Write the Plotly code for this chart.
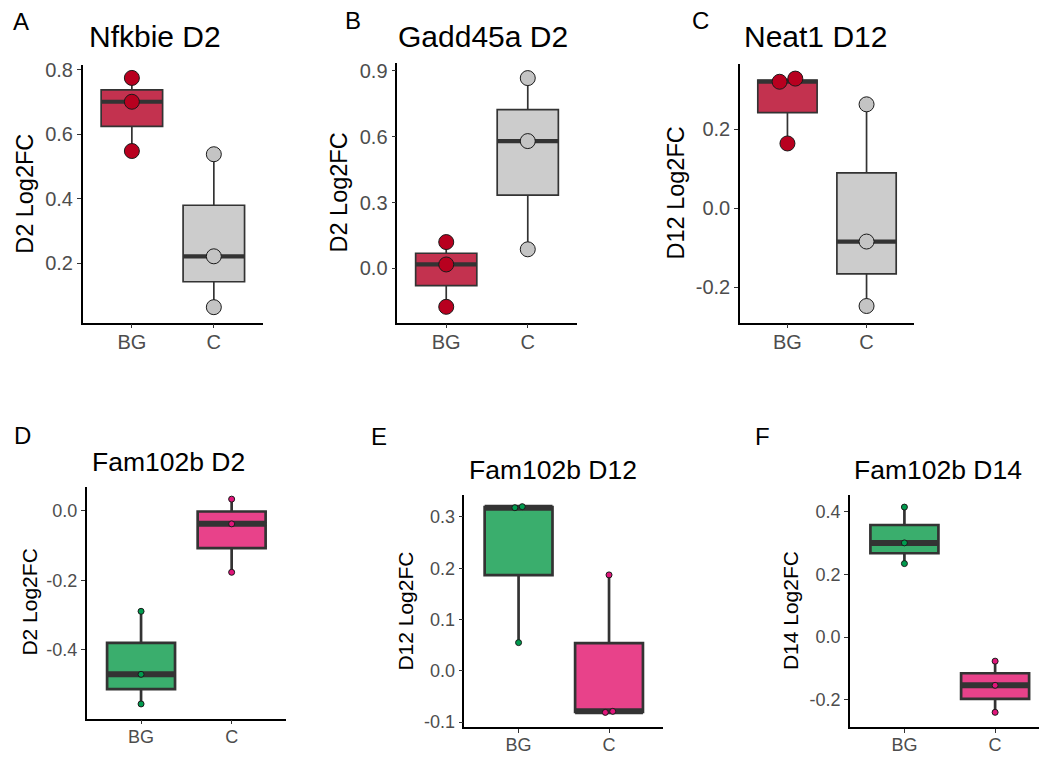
import numpy as np
import plotly.graph_objects as go

# ---------------- data ----------------
categories = ["BG", "C"]

a_bg = [0.548, 0.701, 0.775]
a_c = [0.063, 0.221, 0.538]
b_bg = [-0.175, 0.018, 0.120]
b_c = [0.087, 0.580, 0.867]
c_bg = [0.164, 0.320, 0.328]
c_c = [-0.247, -0.084, 0.263]
d_bg = [-0.555, -0.470, -0.289]
d_c = [-0.177, -0.038, 0.033]
e_bg = [0.055, 0.318, 0.320]
e_c = [-0.081, -0.079, 0.187]
f_bg = [0.234, 0.300, 0.414]
f_c = [-0.240, -0.154, -0.077]

titles = ["Nfkbie D2", "Gadd45a D2", "Neat1 D12", "Fam102b D2", "Fam102b D12", "Fam102b D14"]
ylabels = ["D2 Log2FC", "D2 Log2FC", "D12 Log2FC", "D2 Log2FC", "D12 Log2FC", "D14 Log2FC"]
letters = ["A", "B", "C", "D", "E", "F"]

a_ticks = [0.2, 0.4, 0.6, 0.8]
b_ticks = [0.0, 0.3, 0.6, 0.9]
c_ticks = [-0.2, 0.0, 0.2]
d_ticks = [-0.4, -0.2, 0.0]
e_ticks = [-0.1, 0.0, 0.1, 0.2, 0.3]
f_ticks = [-0.2, 0.0, 0.2, 0.4]

values = [(a_bg, a_c), (b_bg, b_c), (c_bg, c_c), (d_bg, d_c), (e_bg, e_c), (f_bg, f_c)]
ticks = [a_ticks, b_ticks, c_ticks, d_ticks, e_ticks, f_ticks]

# ---------------- layout (pixels) ----------------
W, H = 1039, 761
FONT = "Liberation Sans, Arial, Helvetica, sans-serif"

# x0, x1, y0(top), y1(bottom), yrange, xrange, row
panels = [
    dict(x0=82.7, x1=263.0, y0=60.0, y1=321.7, yr=[0.015, 0.815], xr=[0.4, 2.6], row=0,
         ytx=25, tx=155, ty=36.7, lx=21, ly=21),
    dict(x0=397.3, x1=576.7, y0=58.3, y1=321.7, yr=[-0.247, 0.934], xr=[0.4, 2.6], row=0,
         ytx=339.5, tx=483.3, ty=36.7, lx=353, ly=20),
    dict(x0=740.0, x1=914.0, y0=59.3, y1=321.7, yr=[-0.289, 0.364], xr=[0.4, 2.6], row=0,
         ytx=676, tx=815, ty=36.7, lx=700, ly=20),
    dict(x0=86.7, x1=286.0, y0=488.3, y1=724.0, yr=[-0.597, 0.069], xr=[0.4, 2.6], row=1,
         ytx=30, tx=168.3, ty=468.3, lx=22, ly=441),
    dict(x0=464.3, x1=663.3, y0=496.7, y1=732.3, yr=[-0.109, 0.343], xr=[0.4, 2.6], row=1,
         ytx=405.8, tx=552.7, ty=477, lx=379, ly=442),
    dict(x0=850.0, x1=1039.0, y0=496.7, y1=732.3, yr=[-0.286, 0.453], xr=[0.4, 2.484], row=1,
         ytx=791.3, tx=938.3, ty=477, lx=762, ly=442),
]

styles = [
    dict(msize=15, mline=1.0, boxlw=1.7, medlw=4.2, tickfs=20, titlefs=30, ytfs=23.5,
         fills=["#C3324F", "#CCCCCC"], pts=["#B8001F", "#C4C4C4"], dodge_px=15.7),
    dict(msize=6, mline=1.0, boxlw=2.7, medlw=6.0, tickfs=18, titlefs=26.5, ytfs=21,
         fills=["#3AAE6D", "#E8428A"], pts=["#009B4E", "#E0157A"], dodge_px=7.4),
]

LINE = "#333333"
LETTER_FS = 24
CAP_SHIFT = 0.2  # cap-centre vs text-box-centre correction, in em


def dodge_offsets(vals, tol, step):
    vals = np.asarray(vals, dtype=float)
    order = np.argsort(vals)
    offs = np.zeros(len(vals))
    clusters = [[order[0]]]
    for idx in order[1:]:
        if vals[idx] - vals[clusters[-1][-1]] < tol:
            clusters[-1].append(idx)
        else:
            clusters.append([idx])
    for cl in clusters:
        k = len(cl)
        for j, idx in enumerate(cl):
            offs[idx] = (j - (k - 1) / 2) * step
    return offs


fig = go.Figure()
annotations = []
layout_axes = {}

for i, (p, (bg, cc), tv) in enumerate(zip(panels, values, ticks)):
    st = styles[p["row"]]
    n = i + 1
    xa = "x" if n == 1 else f"x{n}"
    ya = "y" if n == 1 else f"y{n}"
    px_per_unit = (p["x1"] - p["x0"]) / (p["xr"][1] - p["xr"][0])
    step = st["dodge_px"] / px_per_unit

    for g, (vals, pos) in enumerate(zip((bg, cc), (1, 2))):
        fig.add_trace(go.Box(
            x=[pos] * len(vals), y=vals, width=0.75, boxpoints=False, whiskerwidth=0,
            quartilemethod="inclusive", fillcolor=st["fills"][g],
            line=dict(color=LINE, width=st["boxlw"]), xaxis=xa, yaxis=ya,
            showlegend=False, hoverinfo="skip"))
        med = float(np.median(vals))
        fig.add_trace(go.Scatter(
            x=[pos - 0.375, pos + 0.375], y=[med, med], mode="lines",
            line=dict(color=LINE, width=st["medlw"]), xaxis=xa, yaxis=ya,
            showlegend=False, hoverinfo="skip"))
        offs = dodge_offsets(vals, 0.015, step)
        fig.add_trace(go.Scatter(
            x=pos + offs, y=vals, mode="markers",
            marker=dict(size=st["msize"], color=st["pts"][g],
                        line=dict(color="#1a1a1a", width=st["mline"])),
            xaxis=xa, yaxis=ya, showlegend=False, hoverinfo="skip", cliponaxis=False))

    axis_common = dict(showline=True, linecolor="black", linewidth=1.5, ticks="outside",
                       ticklen=4, tickwidth=1.4, tickcolor=LINE, showgrid=False,
                       zeroline=False, tickfont=dict(family=FONT, size=st["tickfs"], color="#4D4D4D"))
    layout_axes["xaxis" if n == 1 else f"xaxis{n}"] = dict(
        domain=[p["x0"] / W, p["x1"] / W], range=p["xr"], anchor=ya,
        tickvals=[1, 2], ticktext=categories, ticklabelstandoff=-3, **axis_common)
    layout_axes["yaxis" if n == 1 else f"yaxis{n}"] = dict(
        domain=[1 - p["y1"] / H, 1 - p["y0"] / H], range=p["yr"], anchor=xa,
        tickvals=tv, ticktext=["%.1f" % t for t in tv], **axis_common)

    ty = p["ty"] - CAP_SHIFT * st["titlefs"]
    annotations.append(dict(text=titles[i], x=p["tx"] / W, y=1 - ty / H, xref="paper",
                            yref="paper", xanchor="center", yanchor="middle", showarrow=False,
                            font=dict(family=FONT, size=st["titlefs"], color="black")))
    annotations.append(dict(text=ylabels[i], x=p["ytx"] / W, y=1 - ((p["y0"] + p["y1"]) / 2) / H,
                            xref="paper", yref="paper", xanchor="center", yanchor="middle",
                            textangle=-90, showarrow=False,
                            font=dict(family=FONT, size=st["ytfs"], color="black")))
    ly = p["ly"] - CAP_SHIFT * LETTER_FS
    annotations.append(dict(text=letters[i], x=p["lx"] / W, y=1 - ly / H, xref="paper",
                            yref="paper", xanchor="center", yanchor="middle", showarrow=False,
                            font=dict(family=FONT, size=LETTER_FS, color="black")))

fig.update_layout(width=W, height=H, margin=dict(l=0, r=0, t=0, b=0),
                  paper_bgcolor="white", plot_bgcolor="white", showlegend=False,
                  annotations=annotations, **layout_axes)

fig.write_html("out.html", config={"displayModeBar": False},
               post_script="document.body.style.margin='0';document.body.style.padding='0';")
